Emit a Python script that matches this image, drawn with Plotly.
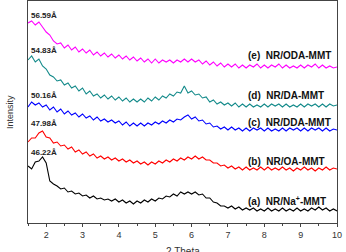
import plotly.graph_objects as go

two_theta = [round(1.5 + 0.1 * i, 2) for i in range(86)]

int_e = [200, 202, 198, 201, 196, 191, 188, 182, 179, 180,
         175, 178, 173, 176, 171, 174, 170, 173, 168, 171,
         167, 170, 166, 169, 165, 168, 164, 167, 163, 166,
         162, 165, 161, 164, 160, 164, 160, 163, 161, 163,
         160, 163, 161, 164, 161, 164, 161, 163, 159, 162,
         158, 161, 157, 160, 156, 159, 156, 159, 155, 158,
         155, 158, 156, 159, 155, 158, 155, 158, 156, 159,
         155, 158, 155, 157, 155, 158, 155, 158, 156, 159,
         155, 158, 155, 157, 155, 156]
int_d = [163, 167, 161, 164, 157, 154, 148, 146, 142, 143,
         138, 140, 135, 137, 132, 135, 129, 132, 127, 129,
         125, 128, 124, 127, 123, 126, 122, 125, 121, 124,
         121, 124, 121, 125, 122, 126, 123, 127, 125, 129,
         127, 131, 130, 137, 130, 132, 128, 129, 125, 126,
         121, 123, 119, 121, 118, 120, 117, 120, 116, 119,
         116, 119, 116, 118, 116, 119, 116, 119, 117, 119,
         116, 119, 116, 118, 116, 119, 116, 119, 117, 119,
         116, 119, 116, 119, 117, 118]
int_c = [116, 121, 118, 120, 116, 118, 113, 116, 111, 114,
         109, 112, 108, 110, 106, 109, 105, 107, 103, 106,
         102, 104, 101, 103, 100, 102, 98, 101, 97, 100,
         97, 100, 97, 100, 98, 101, 99, 102, 100, 103,
         101, 104, 103, 106, 108, 104, 106, 102, 103, 99,
         100, 96, 97, 94, 96, 93, 96, 93, 95, 92,
         95, 92, 95, 93, 95, 92, 95, 92, 94, 92,
         95, 92, 95, 93, 95, 92, 95, 92, 95, 93,
         95, 92, 95, 92, 94, 93]
int_b = [81, 85, 85, 90, 92, 86, 85, 80, 81, 77,
         78, 74, 76, 71, 73, 69, 71, 67, 69, 65,
         67, 64, 66, 63, 65, 62, 64, 61, 63, 60,
         62, 59, 61, 58, 61, 59, 62, 60, 63, 61,
         64, 62, 65, 63, 66, 64, 67, 64, 66, 63,
         63, 60, 60, 57, 58, 55, 57, 54, 56, 53,
         56, 53, 55, 53, 56, 53, 56, 53, 55, 53,
         56, 53, 55, 52, 55, 53, 56, 53, 55, 52,
         55, 53, 56, 53, 55, 54]
int_a = [57, 54, 61, 62, 66, 60, 42, 39, 37, 34,
         35, 31, 32, 29, 30, 27, 28, 25, 27, 24,
         25, 23, 24, 22, 24, 21, 23, 20, 22, 19,
         22, 20, 23, 21, 24, 22, 25, 24, 27, 26,
         29, 27, 31, 29, 31, 29, 31, 28, 29, 25,
         25, 21, 20, 17, 17, 15, 17, 14, 16, 13,
         15, 13, 15, 12, 14, 12, 15, 12, 14, 12,
         15, 12, 14, 12, 15, 12, 14, 12, 15, 13,
         16, 13, 15, 12, 14, 12]

series_names = ["(e)  NR/ODA-MMT", "(d)  NR/DA-MMT", "(c)  NR/DDA-MMT",
                "(b)  NR/OA-MMT", "(a)  NR/Na<sup>+</sup>-MMT"]
series_vals = [int_e, int_d, int_c, int_b, int_a]
series_colors = ["#FF00FF", "#138A8A", "#0000FF", "#FF0000", "#000000"]
label_y = [168, 128, 101, 62, 22]

spacing_labels = ["56.59Å", "54.83Å", "50.16Å", "47.98Å", "46.22Å"]
spacing_y = [208, 173, 128, 100, 71]

x_ticks = [2, 3, 4, 5, 6, 7, 8, 9, 10]

fig = go.Figure()
for name, vals, col in zip(series_names, series_vals, series_colors):
    fig.add_trace(go.Scatter(x=two_theta, y=vals, mode="lines", name=name,
                             line=dict(color=col, width=1.1), showlegend=False))

for name, y in zip(series_names, label_y):
    fig.add_annotation(x=7.5, y=y, text="<b>" + name + "</b>", showarrow=False,
                       xanchor="left", yanchor="middle",
                       font=dict(family="Arial, Liberation Sans", size=10, color="#111"))
for lab, y in zip(spacing_labels, spacing_y):
    fig.add_annotation(x=1.52, y=y, text="<b>" + lab + "</b>", showarrow=False,
                       xanchor="left", yanchor="middle",
                       font=dict(family="Arial, Liberation Sans", size=8, color="#222"))

fig.add_annotation(xref="paper", yref="paper", x=0, y=0.5, text="Intensity",
                   textangle=-90, showarrow=False, xanchor="right", yanchor="middle",
                   xshift=-11, font=dict(family="Arial, Liberation Sans", size=9, color="#333"))
fig.add_annotation(xref="paper", yref="paper", x=0.5, y=0, text="2 Theta",
                   showarrow=False, xanchor="center", yanchor="top",
                   yshift=-21, font=dict(family="Arial, Liberation Sans", size=10, color="#333"))

fig.update_layout(
    width=346, height=252,
    margin=dict(l=28, r=9, t=1, b=29),
    paper_bgcolor="white", plot_bgcolor="white",
    xaxis=dict(range=[1.5, 10], tickvals=x_ticks, ticks="outside", ticklen=3,
               tickcolor="#444", showline=True, linecolor="#444", linewidth=1,
               mirror=True, showgrid=False, zeroline=False,
               tickfont=dict(family="Arial, Liberation Sans", size=9, color="#333"),
               minor=dict(dtick=0.5, tick0=1.5, ticks="outside", ticklen=2, tickcolor="#444")),
    yaxis=dict(range=[0, 222], showticklabels=False, ticks="", showline=True,
               linecolor="#444", linewidth=1, mirror=True, showgrid=False, zeroline=False),
)

fig.write_html("out.html")
